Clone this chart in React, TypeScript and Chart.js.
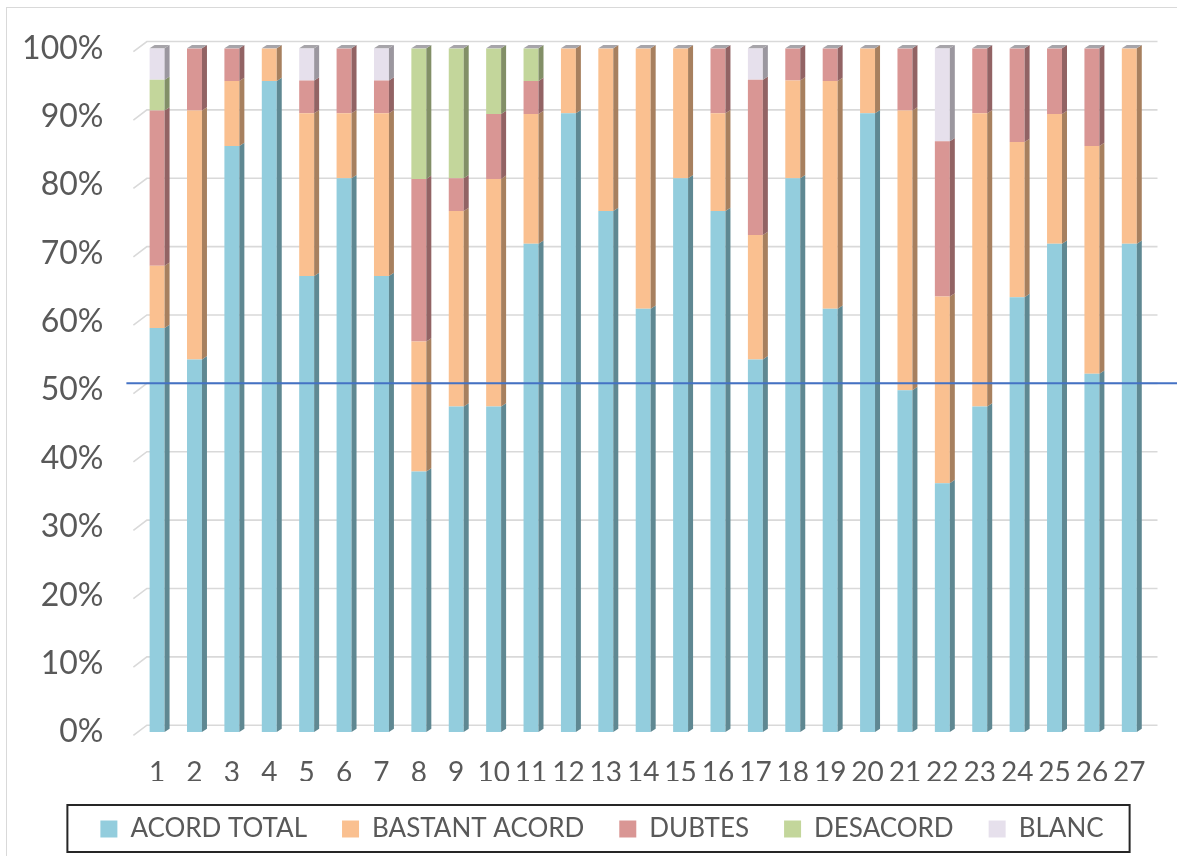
import React, { useEffect, useRef } from "react";
import { Chart, registerables } from "chart.js";

Chart.register(...registerables);

const CATEGORIES = ["1","2","3","4","5","6","7","8","9","10","11","12","13","14","15","16","17","18","19","20","21","22","23","24","25","26","27"];

const ACORD_TOTAL = [59.1, 54.5, 85.7, 95.2, 66.7, 81.0, 66.7, 38.1, 47.6, 47.6, 71.4, 90.5, 76.2, 61.9, 81.0, 76.2, 54.5, 81.0, 61.9, 90.5, 50.0, 36.4, 47.6, 63.6, 71.4, 52.4, 71.4];
const BASTANT_ACORD = [9.1, 36.4, 9.5, 4.8, 23.8, 9.5, 23.8, 19.0, 28.6, 33.3, 19.0, 9.5, 23.8, 38.1, 19.0, 14.3, 18.2, 14.3, 33.3, 9.5, 40.9, 27.3, 42.9, 22.7, 19.0, 33.3, 28.6];
const DUBTES = [22.7, 9.1, 4.8, 0, 4.8, 9.5, 4.8, 23.8, 4.8, 9.5, 4.8, 0, 0, 0, 0, 9.5, 22.7, 4.7, 4.8, 0, 9.1, 22.7, 9.5, 13.7, 9.6, 14.3, 0];
const DESACORD = [4.5, 0, 0, 0, 0, 0, 0, 19.1, 19.0, 9.6, 4.8, 0, 0, 0, 0, 0, 0, 0, 0, 0, 0, 0, 0, 0, 0, 0, 0];
const BLANC = [4.6, 0, 0, 0, 4.7, 0, 4.7, 0, 0, 0, 0, 0, 0, 0, 0, 0, 4.6, 0, 0, 0, 0, 13.6, 0, 0, 0, 0, 0];

const SERIES_NAMES = ["ACORD TOTAL", "BASTANT ACORD", "DUBTES", "DESACORD", "BLANC"];
const FRONT_COLORS = ["#93CDDD", "#FAC090", "#D99694", "#C3D69B", "#E6E0EC"];
const SIDE_COLORS = ["#5F8892", "#A7805F", "#926364", "#828F67", "#9B979F"];
const CAP_COLOR = "#A7A5AA";

const Y_TICK_STEP = 10;
const THRESHOLD = 50;

const FONT = "Lato, 'Open Sans', sans-serif";
const TEXT_COLOR = "#595959";

// 3D geometry
const BAR_DX = 5;
const BAR_DY = 3.3;
const WALL_DX = 8.5;
const WALL_DY = 6.8;
const STUB_BACK = 5;
const STUB_DOWN = 3.4;
const LEGEND_SHIFT = 56;

const threeDPlugin = {
  id: "threeD",
  afterLayout(chart: any) {
    if (chart.legend) {
      chart.legend.left += LEGEND_SHIFT;
    }
  },
  beforeDraw(chart: any) {
    const { ctx, width, height } = chart;
    ctx.save();
    ctx.strokeStyle = "#D9D9D9";
    ctx.lineWidth = 1;
    ctx.strokeRect(6.5, 7.5, width + 20, height + 20);
    ctx.restore();
  },
  beforeDatasetsDraw(chart: any) {
    const { ctx, chartArea } = chart;
    const yScale = chart.scales.y;
    ctx.save();
    ctx.strokeStyle = "#D9D9D9";
    ctx.lineWidth = 1.6;
    yScale.ticks.forEach((t: any) => {
      const yf = yScale.getPixelForValue(t.value);
      ctx.beginPath();
      ctx.moveTo(chartArea.left - STUB_BACK, yf + STUB_DOWN);
      ctx.lineTo(chartArea.left + WALL_DX, yf - WALL_DY);
      ctx.lineTo(chartArea.right + WALL_DX + 1, yf - WALL_DY);
      ctx.stroke();
    });
    ctx.restore();
  },
  afterDatasetsDraw(chart: any) {
    const { ctx, chartArea } = chart;
    const n = chart.data.labels.length;
    const tops: any[] = new Array(n).fill(null);
    ctx.save();
    chart.data.datasets.forEach((ds: any, di: number) => {
      const meta = chart.getDatasetMeta(di);
      if (meta.hidden) return;
      meta.data.forEach((bar: any, i: number) => {
        const { x, y, base, width } = bar.getProps(["x", "y", "base", "width"], true);
        if (Math.abs(base - y) < 0.3) return;
        const r = x + width / 2;
        ctx.fillStyle = SIDE_COLORS[di];
        ctx.beginPath();
        ctx.moveTo(r, y);
        ctx.lineTo(r + BAR_DX, y - BAR_DY);
        ctx.lineTo(r + BAR_DX, base - BAR_DY);
        ctx.lineTo(r, base);
        ctx.closePath();
        ctx.fill();
        if (!tops[i] || y < tops[i].y) tops[i] = { x, y, width };
      });
    });
    tops.forEach((t) => {
      if (!t) return;
      const l = t.x - t.width / 2;
      const r = t.x + t.width / 2;
      ctx.fillStyle = CAP_COLOR;
      ctx.beginPath();
      ctx.moveTo(l, t.y);
      ctx.lineTo(l + BAR_DX, t.y - BAR_DY);
      ctx.lineTo(r + BAR_DX, t.y - BAR_DY);
      ctx.lineTo(r, t.y);
      ctx.closePath();
      ctx.fill();
    });
    // threshold line (on back wall)
    const yScale = chart.scales.y;
    const yt = yScale.getPixelForValue(THRESHOLD) - WALL_DY;
    ctx.strokeStyle = "#4472C4";
    ctx.lineWidth = 2;
    ctx.beginPath();
    ctx.moveTo(chartArea.left - 12, yt);
    ctx.lineTo(chart.width, yt);
    ctx.stroke();
    ctx.restore();
  },
  afterDraw(chart: any) {
    const legend = chart.legend;
    if (!legend || !legend.legendHitBoxes || !legend.legendHitBoxes.length) return;
    const hb = legend.legendHitBoxes;
    const first = hb[0];
    const last = hb[hb.length - 1];
    const { ctx } = chart;
    ctx.save();
    ctx.strokeStyle = "#262626";
    ctx.lineWidth = 2;
    const left = first.left - 33;
    const right = last.left + last.width + 26;
    const top = first.top - 11;
    const bottom = first.top + first.height + 10;
    ctx.strokeRect(left, top, right - left, bottom - top);
    ctx.restore();
  },
};

export default function App() {
  const canvasRef = useRef<HTMLCanvasElement | null>(null);

  useEffect(() => {
    document.body.style.margin = "0";
    const canvas = canvasRef.current;
    if (!canvas) return;
    const seriesValues = [ACORD_TOTAL, BASTANT_ACORD, DUBTES, DESACORD, BLANC];
    const chart = new Chart(canvas, {
      type: "bar",
      data: {
        labels: CATEGORIES,
        datasets: seriesValues.map((vals, i) => ({
          label: SERIES_NAMES[i],
          data: vals,
          backgroundColor: FRONT_COLORS[i],
          borderWidth: 0,
          barPercentage: 0.4,
          categoryPercentage: 1,
        })),
      },
      options: {
        animation: false,
        responsive: true,
        maintainAspectRatio: false,
        layout: { padding: { top: 48.3, right: 29, bottom: 4, left: 0 } },
        plugins: {
          tooltip: { enabled: false },
          legend: {
            position: "bottom",
            labels: {
              font: { family: FONT, size: 26 },
              color: TEXT_COLOR,
              boxWidth: 17,
              boxHeight: 17,
              padding: 35,
            },
          },
        },
        scales: {
          x: {
            stacked: true,
            grid: { display: false, drawTicks: false },
            border: { display: false },
            ticks: {
              font: { family: FONT, size: 28 },
              color: TEXT_COLOR,
              padding: 24,
              maxRotation: 0,
              autoSkip: false,
            },
            afterFit: (scale: any) => {
              scale.height = 49;
            },
          },
          y: {
            stacked: true,
            min: 0,
            max: 100,
            grid: { display: false, drawTicks: false },
            border: { display: false },
            ticks: {
              stepSize: Y_TICK_STEP,
              font: { family: FONT, size: 32, lineHeight: 0.7 },
              color: TEXT_COLOR,
              padding: 35,
              callback: (v: any) => v + "%",
            },
            afterFit: (scale: any) => {
              scale.width = 138.4;
            },
          },
        },
      },
      plugins: [threeDPlugin],
    });
    return () => chart.destroy();
  }, []);

  return (
    <div style={{ width: "1177px", height: "856px", position: "relative", background: "#fff" }}>
      <canvas ref={canvasRef} />
    </div>
  );
}
